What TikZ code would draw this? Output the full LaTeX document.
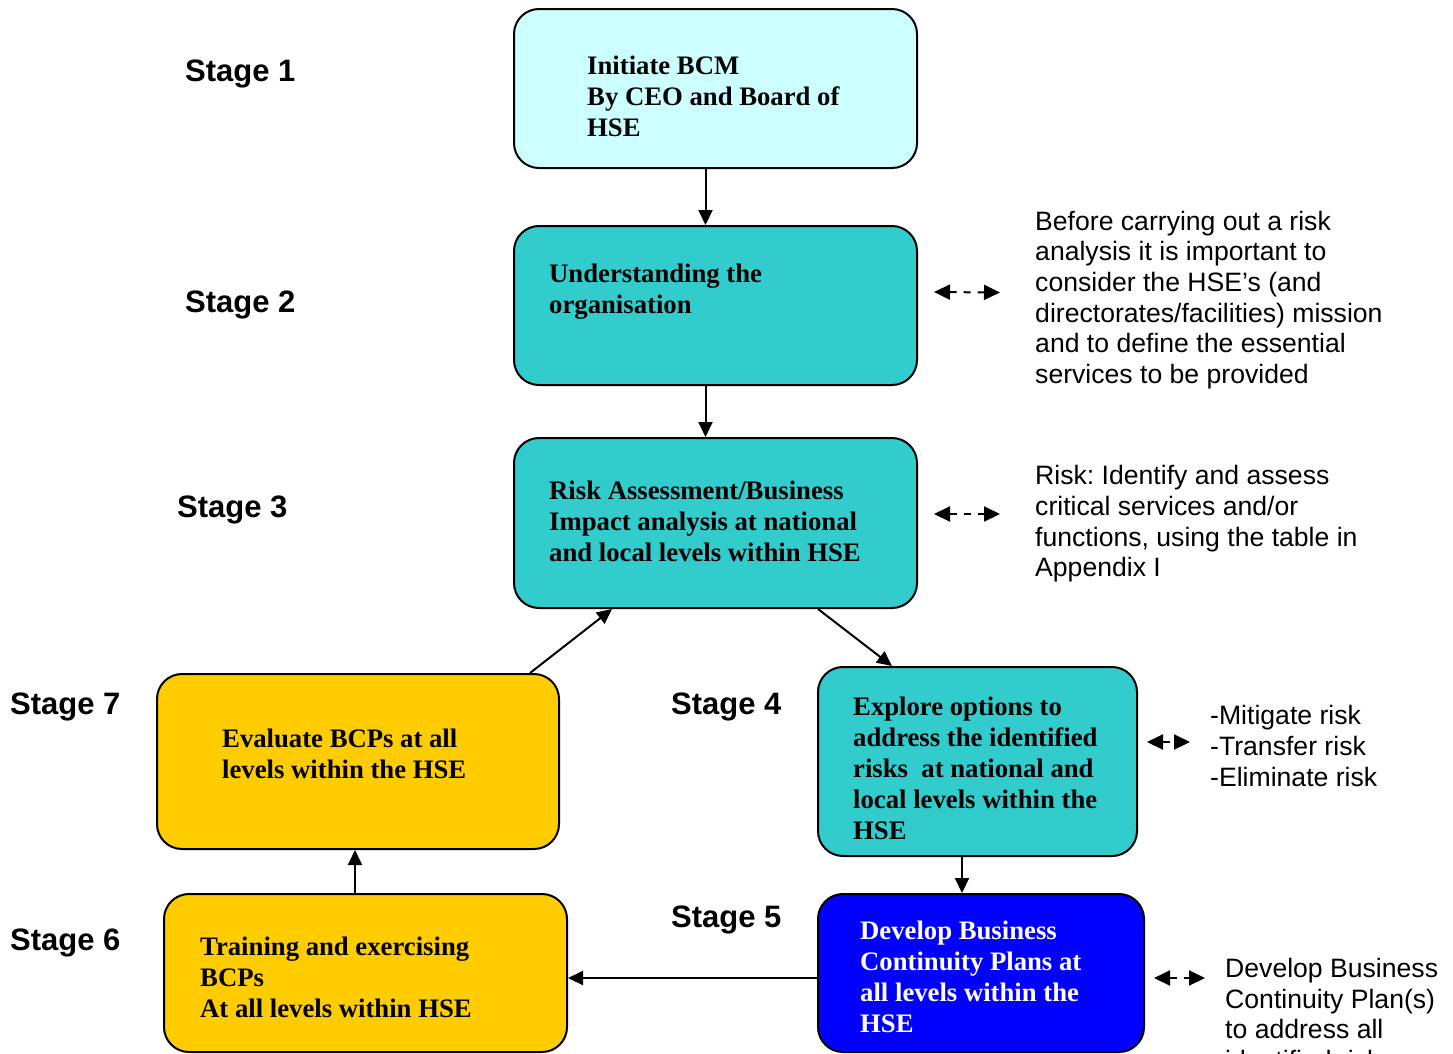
\documentclass[tikz,border=0pt]{standalone}
\usepackage{fontspec}
\setmainfont{Liberation Serif}
\setsansfont{Liberation Sans}
\frenchspacing
\usepackage{tikz}
\usetikzlibrary{positioning,arrows.meta}
\definecolor{paleaqua}{HTML}{CCFFFF}
\definecolor{teal}{HTML}{33CCCC}
\definecolor{gold}{HTML}{FFCC00}
\definecolor{royal}{HTML}{0000FF}
\tikzset{stagebox/.style={draw=black, line width=2pt, rounded corners=25pt, minimum width=403pt, minimum height=159pt, inner sep=0pt},
boxtext/.style={anchor=west, align=left, inner sep=0pt, font=\fontsize{26.7}{31}\selectfont\bfseries},
sidetext/.style={anchor=west, align=left, inner sep=0pt, font=\sffamily\fontsize{26.6}{30.6}\selectfont},
stagelabel/.style={anchor=west, inner sep=0pt, font=\sffamily\bfseries\fontsize{31}{36}\selectfont},
flow/.style={line width=2pt, -{Triangle[length=15pt,width=14pt]}},
link/.style={line width=2pt, dash pattern=on 7pt off 7pt, {Triangle[length=16pt,width=15pt]}-{Triangle[length=16pt,width=15pt]}},}

\begin{document}
\begin{tikzpicture}[x=1pt, y=-1pt]
\clip (0,0) rectangle (1453,1053);
\fill[white] (0,0) rectangle (1453,1053);
\node [stagebox, fill=paleaqua] (b1) at (715.5,88.5) {};
\node [stagebox, fill=teal] (b2) at (715.5,305.5) {};
\node [stagebox, fill=teal, minimum height=170pt] (b3) at (715.5,523) {};
\node [stagebox, fill=teal, minimum width=319pt, minimum height=189pt] (b4) at (977.5,761.5) {};
\node [stagebox, fill=royal, minimum width=326pt, minimum height=158pt] (b5) at (981,973) {};
\node [stagebox, fill=gold, minimum height=158pt] (b6) at (365.5,973) {};
\node [stagebox, fill=gold, minimum width=402pt, minimum height=175pt] (b7) at (358,761.5) {};
\node [boxtext] (t1) at (587,96) {Initiate BCM\\By CEO and Board of\\HSE};
\node [boxtext] (t2) at (549,292) {Understanding the\\organisation};
\node [boxtext] (t3) at (549,521) {Risk Assessment/Business\\Impact analysis at national\\and local levels within HSE};
\node [boxtext] (t4) at (853,768) {Explore options to\\address the identified\\risks\ \ at national and\\local levels within the\\HSE};
\node [boxtext, text=white] (t5) at (860,977) {Develop Business\\Continuity Plans at\\all levels within the\\HSE};
\node [boxtext] (t6) at (200,977) {Training and exercising\\BCPs\\At all levels within HSE};
\node [boxtext] (t7) at (222,754) {Evaluate BCPs at all\\levels within the HSE};
\node [stagelabel] (l1) at (185,74) {Stage 1};
\node [stagelabel] (l2) at (185,305) {Stage 2};
\node [stagelabel] (l3) at (177,510) {Stage 3};
\node [stagelabel] (l4) at (671,707) {Stage 4};
\node [stagelabel] (l5) at (671,920) {Stage 5};
\node [stagelabel] (l6) at (10,943) {Stage 6};
\node [stagelabel] (l7) at (10,707) {Stage 7};
\node [sidetext] (s2) at (1035,300) {Before carrying out a risk\\analysis it is important to\\consider the HSE’s (and\\directorates/facilities) mission\\and to define the essential\\services to be provided};
\node [sidetext] (s3) at (1035,524) {Risk: Identify and assess\\critical services and/or\\functions, using the table in\\Appendix I};
\node [sidetext] (s4) at (1210,746) {-Mitigate risk\\-Transfer risk\\-Eliminate risk};
\node [sidetext] (s5) at (1225,1014) {Develop Business\\Continuity Plan(s)\\to address all\\identified risks};
\draw[flow] ([xshift=-10pt]b1.south) -- ([xshift=-10pt]b2.north);
\draw[flow] ([xshift=-10pt]b2.south) -- ([xshift=-10pt]b3.north);
\draw[flow] ([xshift=102.5pt]b3.south) -- ([xshift=-85.5pt]b4.north);
\draw[flow] ([xshift=-15.5pt]b4.south) -- ([xshift=-19pt]b5.north);
\draw[flow] ([yshift=-5pt]b5.west) -- ([yshift=-5pt]b6.east);
\draw[flow] ([xshift=-10.5pt]b6.north) -- ([xshift=-3pt]b7.south);
\draw[flow] ([xshift=172pt]b7.north) -- ([xshift=-103.5pt]b3.south);
\draw[link] ([xshift=16pt,yshift=13.5pt]b2.east) -- ([xshift=-35pt,yshift=7.5pt]s2.west);
\draw[link] ([xshift=16pt,yshift=9pt]b3.east) -- ([xshift=-35pt,yshift=10pt]s3.west);
\draw[link] ([xshift=9pt,yshift=19.5pt]b4.east) -- ([xshift=-20pt,yshift=4pt]s4.west);
\draw[link] ([xshift=9pt,yshift=-5pt]b5.east) -- ([xshift=-20pt,yshift=36pt]s5.west);
\end{tikzpicture}
\end{document}
